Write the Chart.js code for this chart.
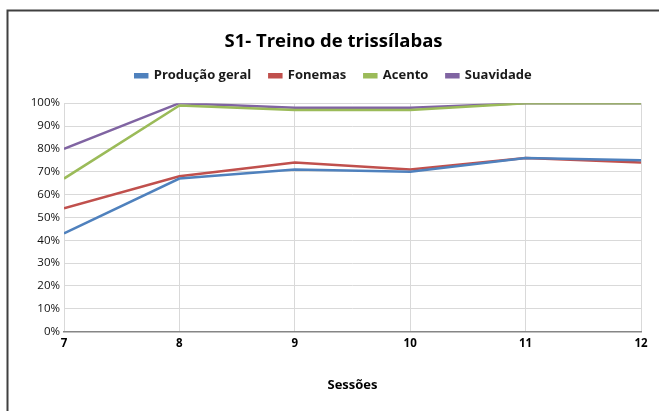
<!DOCTYPE html>
<html>
<head>
<meta charset="utf-8">
<script src="https://cdn.jsdelivr.net/npm/chart.js@4/dist/chart.umd.min.js"></script>
<style>
  html, body { margin: 0; padding: 0; background: #fff; }
  #wrap { position: relative; width: 659px; height: 411px; }
</style>
</head>
<body>
<div id="wrap"><canvas id="S1Chart" width="659" height="411"></canvas></div>
<script>
// sessões (eixo x) e percentagens por série
const sessions = [7, 8, 9, 10, 11, 12];
const producaoGeral = [43, 67, 71, 70, 76, 75];
const fonemas = [54, 68, 74, 71, 76, 74];
const acento = [67, 99, 97, 97, 100, 100];
const suavidade = [80, 100, 98, 98, 100, 100];
const seriesNames = ['Produção geral', 'Fonemas', 'Acento', 'Suavidade'];
const seriesColors = ['#4F81BD', '#C0504D', '#9BBB59', '#8064A2'];

const FONT = '"Open Sans", "Noto Sans", sans-serif';

const toPoints = (vals) => vals.map((v, i) => ({ x: sessions[i], y: v }));

// moldura do gráfico (topo e lado esquerdo)
const frame = {
  id: 'frame',
  beforeInit(chart) {
    // mais espaço entre a legenda e a área do gráfico
    const fit = chart.legend.fit;
    chart.legend.fit = function () {
      fit.call(this);
      this.height += 11;
    };
  },
  beforeDraw(chart) {
    const c = chart.ctx;
    c.save();
    c.fillStyle = '#fff';
    c.fillRect(0, 0, chart.width, chart.height);
    c.strokeStyle = '#404040';
    c.lineWidth = 2;
    c.beginPath();
    c.moveTo(7.5, 411);
    c.lineTo(7.5, 10.5);
    c.lineTo(659, 10.5);
    c.stroke();
    c.restore();
  }
};

const ctx = document.getElementById('S1Chart').getContext('2d');
new Chart(ctx, {
  type: 'line',
  data: {
    datasets: [producaoGeral, fonemas, acento, suavidade].map((vals, i) => ({
      label: seriesNames[i],
      data: toPoints(vals),
      borderColor: seriesColors[i],
      backgroundColor: seriesColors[i],
      borderWidth: 2.5,
      pointRadius: 0,
      tension: 0,
      fill: false
    }))
  },
  options: {
    responsive: false,
    animation: false,
    layout: { padding: { left: 26, right: 18, top: 31, bottom: 18 } },
    plugins: {
      title: {
        display: true,
        text: 'S1- Treino de trissílabas',
        color: '#000',
        font: { family: FONT, size: 18.5, weight: 'bold' },
        padding: { top: 0, bottom: -2 }
      },
      legend: {
        labels: {
          color: '#1a1a1a',
          font: { family: FONT, size: 13, weight: 'bold' },
          boxWidth: 12,
          boxHeight: 3,
          padding: 18
        }
      },
      tooltip: { enabled: false }
    },
    scales: {
      x: {
        type: 'linear',
        min: 7,
        max: 12,
        ticks: {
          stepSize: 1,
          color: '#000',
          font: { family: FONT, size: 11.5, weight: 'bold' },
          padding: 5
        },
        grid: { color: '#d9d9d9', lineWidth: 1, drawTicks: false },
        border: { color: '#868686', width: 1.5 },
        title: {
          display: true,
          text: 'Sessões',
          color: '#000',
          font: { family: FONT, size: 13, weight: 'bold' },
          padding: { top: 22, bottom: 0 }
        }
      },
      y: {
        min: 0,
        max: 100,
        ticks: {
          stepSize: 10,
          color: '#111',
          font: { family: FONT, size: 11.5 },
          padding: 4,
          callback: (v) => v + '%'
        },
        grid: { color: '#d9d9d9', lineWidth: 1, drawTicks: false },
        border: { display: false },
        afterFit(scale) { scale.width = 38; }
      }
    }
  },
  plugins: [frame]
});
</script>
</body>
</html>
